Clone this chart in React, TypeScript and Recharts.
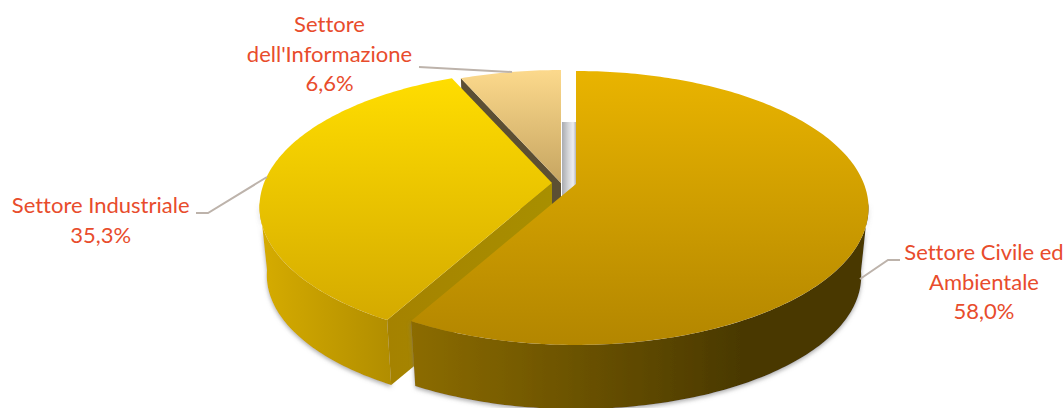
import { Pie, PieChart } from "recharts";

const categoryLines = [
  ["Settore", "dell'Informazione"],
  ["Settore Industriale"],
  ["Settore Civile ed", "Ambientale"],
];
const shares = [6.6, 35.3, 58.0];

const tableData = categoryLines.map((lines, i) => ({
  name: lines.join(" "),
  value: shares[i],
}));

// look of the tilted pie
const TILT = 0.461;
const PERSPECTIVE = 0.175;
const DEPTH = 69;
const BASE_X = 0.975;
const BASE_Y = 0.97;
const FRONT_FROM = 188;
const FRONT_TO = 352;

const shifts = [
  [-14, -1],
  [-23, -1],
  [1, 0],
];

const topColors = [
  ["#fcd98c", "#c6a561"],
  ["#ffdd00", "#d4aa00"],
  ["#e9b400", "#b38600"],
];
const wallColors = [
  ["#6b5a38", "#5a4c30"],
  ["#d6ac00", "#a07f00"],
  ["#8c6c00", "#4a3900"],
];
const cutColors = [
  ["#5c4f33", "#5c4f33"],
  ["#a58200", "#a88f00"],
  ["#8c6c00", "#8c6c00"],
];

const labelSpots = [
  { x: 329.5, y: 32, line: "419,67 512,72" },
  { x: 100.7, y: 213, line: "196,213 208,213 267,177" },
  { x: 984, y: 260, line: "900,260 888,260 860,279" },
];

const RED = "#e84c2c";

function onTop(cx: number, cy: number, r: number, deg: number) {
  const a = (deg * Math.PI) / 180;
  const u = Math.cos(a);
  const v = -Math.sin(a);
  const d = 1 - PERSPECTIVE * v;
  return [cx + (r * u) / d, cy + (r * TILT * v) / d];
}

function onBase(cx: number, cy: number, p: number[]) {
  return [cx + BASE_X * (p[0] - cx), cy + DEPTH + BASE_Y * (p[1] - cy)];
}

function arc(cx: number, cy: number, r: number, from: number, to: number) {
  const pts: number[][] = [];
  const n = Math.max(2, Math.ceil(to - from));
  for (let i = 0; i <= n; i++) {
    pts.push(onTop(cx, cy, r, from + ((to - from) * i) / n));
  }
  return pts;
}

const toStr = (pts: number[][]) => pts.map((p) => p.join(",")).join(" ");

function Slice3D(props: any) {
  const { index, startAngle, endAngle, outerRadius } = props;
  const cx = props.cx + shifts[index][0];
  const cy = props.cy + shifts[index][1];
  const r = outerRadius;
  const from = Math.min(startAngle, endAngle);
  const to = Math.max(startAngle, endAngle);

  const rim = arc(cx, cy, r, from, to);
  const xs = rim.map((p) => p[0]);
  const ys = [...rim.map((p) => p[1]), cy];

  const wallFrom = Math.max(from, FRONT_FROM);
  const wallTo = Math.min(to, FRONT_TO);
  let wall: number[][] | null = null;
  if (wallTo > wallFrom) {
    const top = arc(cx, cy, r, wallFrom, wallTo);
    wall = [...top, ...top.map((p) => onBase(cx, cy, p)).reverse()];
  }

  const corner = onTop(cx, cy, r, to);
  const cut = [
    [cx, cy],
    corner,
    onBase(cx, cy, corner),
    onBase(cx, cy, [cx, cy]),
  ];

  return (
    <g>
      <defs>
        <linearGradient
          id={`top${index}`}
          gradientUnits="userSpaceOnUse"
          x1={0}
          x2={0}
          y1={Math.min(...ys)}
          y2={Math.max(...ys)}
        >
          <stop offset="0" stopColor={topColors[index][0]} />
          <stop offset="1" stopColor={topColors[index][1]} />
        </linearGradient>
        <linearGradient
          id={`wall${index}`}
          gradientUnits="userSpaceOnUse"
          x1={Math.min(...xs)}
          x2={Math.max(...xs)}
          y1={0}
          y2={0}
        >
          <stop offset="0" stopColor={wallColors[index][0]} />
          <stop offset={index === 2 ? "0.72" : "1"} stopColor={wallColors[index][1]} />
        </linearGradient>
        <linearGradient
          id={`cut${index}`}
          gradientUnits="userSpaceOnUse"
          x1={corner[0]}
          x2={cx}
          y1={0}
          y2={0}
        >
          <stop offset="0" stopColor={cutColors[index][0]} />
          <stop offset="1" stopColor={cutColors[index][1]} />
        </linearGradient>
        <linearGradient id="backShade" x1="0" x2="1" y1="0" y2="0">
          <stop offset="0" stopColor="#a9abb0" />
          <stop offset="0.45" stopColor="#d4d5d8" />
          <stop offset="0.8" stopColor="#eeeeef" />
          <stop offset="1" stopColor="#b5b6b8" />
        </linearGradient>
        <filter id={`soft${index}`} x="-10%" y="-10%" width="120%" height="130%">
          <feDropShadow dx="0" dy="2" stdDeviation="2" floodColor="#777" floodOpacity="0.6" />
        </filter>
      </defs>
      {index === 2 && (
        <rect x={cx - 14} y={cy - 62} width={14} height={74} fill="url(#backShade)" />
      )}
      {wall && (
        <polygon points={toStr(wall)} fill={`url(#wall${index})`} filter={`url(#soft${index})`} />
      )}
      <polygon points={toStr(cut)} fill={`url(#cut${index})`} />
      <polygon points={toStr([[cx, cy], ...rim])} fill={`url(#top${index})`} />
    </g>
  );
}

function SliceLabel(props: any) {
  const { index } = props;
  const spot = labelSpots[index];
  const lines = [...categoryLines[index], shares[index].toFixed(1).replace(".", ",") + "%"];
  return (
    <g>
      <polyline points={spot.line} fill="none" stroke="#bdb3ab" strokeWidth={2} />
      <text
        x={spot.x}
        y={spot.y}
        textAnchor="middle"
        fill={RED}
        fontFamily="Lato, sans-serif"
        fontSize={22}
        style={{ fontVariantLigatures: "none" }}
      >
        {lines.map((t, i) => (
          <tspan key={t} x={spot.x} dy={i === 0 ? 0 : 29.5}>
            {t}
          </tspan>
        ))}
      </text>
    </g>
  );
}

export default function App() {
  return (
    <div style={{ position: "absolute", left: 0, top: 0, width: 1064, height: 408, background: "#fff" }}>
      <PieChart width={1064} height={408} margin={{ top: 0, right: 0, bottom: 0, left: 0 }}>
        <Pie
          data={tableData}
          dataKey="value"
          nameKey="name"
          cx={575}
          cy={184}
          outerRadius={288}
          startAngle={90}
          endAngle={450}
          stroke="none"
          shape={Slice3D}
          label={SliceLabel}
          labelLine={false}
          isAnimationActive={false}
        />
      </PieChart>
    </div>
  );
}
